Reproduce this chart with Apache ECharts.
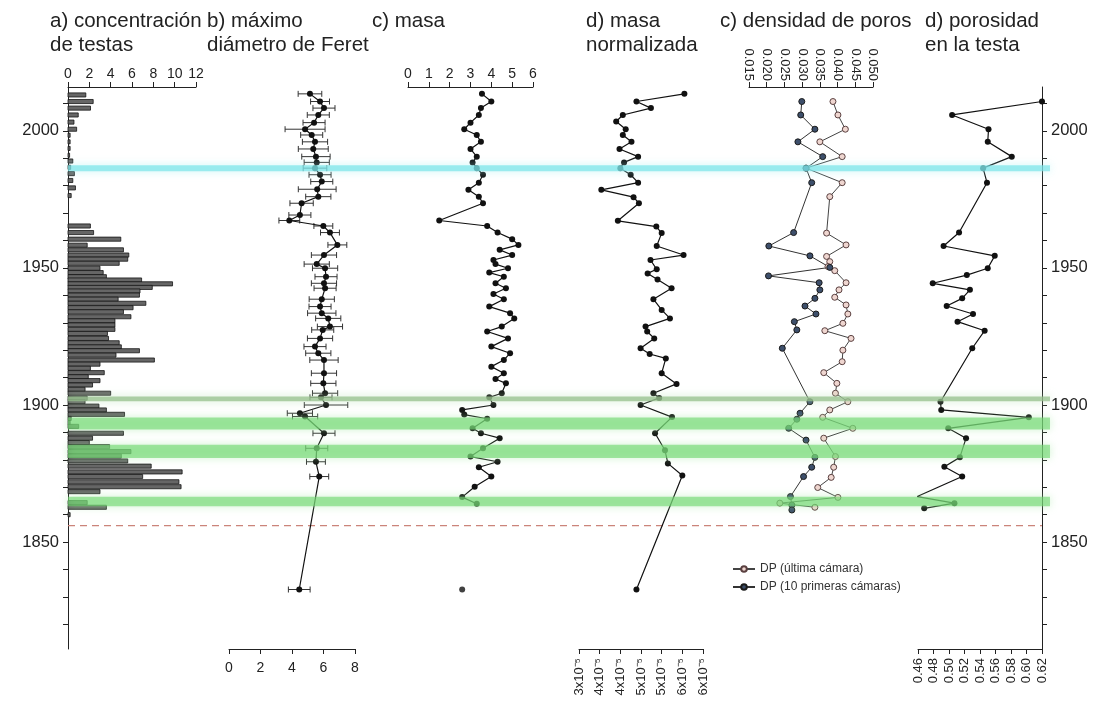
<!DOCTYPE html>
<html>
<head>
<meta charset="utf-8">
<script src="https://cdn.jsdelivr.net/npm/echarts@6/dist/echarts.min.js"></script>
<style>
  html, body { margin: 0; padding: 0; background: #fff; }
  #chart { width: 1109px; height: 709px; }
</style>
</head>
<body>
<div id="chart"></div>
<script>
// ---- Data --------------------------------------------------------------
// a) concentración de testas (year, value)
const concYears = [2013.1, 2010.7, 2008.3, 2005.8, 2003.2, 2000.6, 1998.4, 1996.0, 1993.6, 1991.1, 1989.0, 1986.7, 1984.4, 1981.9, 1979.2, 1976.4,
  1965.3, 1962.9, 1960.5, 1958.3, 1956.6, 1954.7, 1953.2, 1951.7, 1949.9, 1948.3, 1946.8, 1945.6, 1944.2, 1942.9, 1941.6, 1940.1,
  1938.6, 1937.1, 1935.5, 1934.0, 1932.2, 1930.7, 1929.2, 1927.6, 1926.1, 1924.3, 1922.7, 1921.2, 1919.8, 1918.2, 1916.4, 1914.9,
  1913.4, 1911.8, 1910.3, 1908.9, 1907.3, 1905.7, 1904.3, 1902.5, 1901.2, 1899.6, 1898.2, 1896.6, 1895.1, 1893.6, 1892.2, 1889.7,
  1887.9, 1886.3, 1884.8, 1883.0, 1881.4, 1879.6, 1877.7, 1875.6, 1873.9, 1872.0, 1870.2, 1868.4, 1864.4, 1862.7, 1860.0];
const concValues = [1.67, 2.36, 2.11, 0.96, 0.56, 0.81, 0.2, 0.2, 0.2, 0.15, 0.45, 0.25, 0.6, 0.45, 0.7, 0.3,
  2.1, 2.4, 4.95, 1.8, 5.2, 5.7, 5.6, 4.8, 3.0, 3.3, 3.6, 6.9, 9.8, 7.9, 6.75, 6.7,
  4.7, 7.3, 6.1, 5.2, 5.9, 4.4, 4.4, 4.4, 3.7, 3.8, 4.8, 5.0, 6.7, 4.5, 8.1, 3.0,
  2.1, 3.4, 1.9, 3.0, 2.3, 1.6, 4.0, 1.8, 1.6, 2.9, 3.6, 5.3, 0.3, 0.2, 1.0, 5.2,
  2.3, 2.0, 3.9, 5.9, 5.0, 5.6, 7.8, 10.7, 7.0, 10.4, 10.6, 3.0, 1.8, 3.6, 0.2];

// b) máximo diámetro de Feret: mean and half-width of the error bar
const feretYears = [2013.5, 2010.7, 2008.3, 2005.8, 2003.0, 2000.6, 1998.5, 1996.0, 1993.4, 1990.6, 1988.5, 1986.4, 1984.0, 1981.5,
  1978.7, 1976.0, 1973.6, 1969.3, 1967.3, 1965.3, 1962.9, 1958.4, 1954.7, 1951.4, 1949.9, 1946.8, 1944.4, 1942.6, 1938.6, 1935.9,
  1933.5, 1931.6, 1928.6, 1927.4, 1924.3, 1921.3, 1918.9, 1916.4, 1911.6, 1907.9, 1904.3, 1902.8, 1900.0, 1897.0, 1895.8, 1889.7,
  1884.2, 1879.3, 1873.9, 1832.7];
const feretValues = [5.14, 5.78, 6.03, 5.67, 5.40, 4.83, 5.25, 5.46, 5.35, 5.52, 5.57, 5.46, 5.78, 5.89,
  5.60, 5.67, 4.61, 4.50, 3.83, 5.99, 6.41, 6.88, 6.03, 5.57, 6.10, 6.16, 6.03, 6.10, 5.89, 5.78,
  5.89, 6.30, 6.41, 5.95, 5.78, 5.46, 5.67, 6.03, 6.03, 5.99, 6.10, 5.84, 6.16, 4.50, 4.83, 6.03,
  5.57, 5.52, 5.73, 4.46];
const feretErrors = [0.75, 0.6, 0.7, 0.7, 0.7, 1.27, 0.7, 0.8, 0.95, 0.9, 0.8, 0.75, 0.7, 0.7,
  1.2, 0.8, 0.74, 0.7, 0.66, 0.6, 0.6, 0.6, 0.8, 0.8, 0.8, 0.7, 0.8, 0.7, 0.8, 0.7,
  0.9, 0.8, 0.8, 0.7, 0.8, 0.7, 0.8, 0.9, 0.8, 0.8, 0.8, 0.7, 1.38, 0.8, 0.8, 0.7,
  0.7, 0.6, 0.6, 0.69];

// c) masa
const masaYears = [2013.5, 2010.7, 2008.3, 2005.8, 2003.0, 2000.6, 1998.5, 1996.0, 1993.4, 1990.6, 1988.5, 1986.4, 1984.0, 1981.1,
  1978.5, 1976.0, 1973.6, 1967.3, 1965.3, 1962.9, 1960.5, 1958.4, 1956.6, 1954.7, 1952.9, 1951.4, 1949.9, 1948.3, 1946.8, 1944.4,
  1942.6, 1940.5, 1938.6, 1935.9, 1933.5, 1931.6, 1928.6, 1926.8, 1924.3, 1921.3, 1918.9, 1916.4, 1914.0, 1911.6, 1909.5, 1907.9,
  1904.3, 1902.8, 1900.0, 1898.2, 1896.5, 1895.0, 1891.5, 1889.7, 1887.9, 1884.2, 1881.2, 1879.3, 1877.3, 1873.9, 1870.2, 1866.4, 1864.0];
const masaValues = [3.55, 4.0, 3.5, 3.4, 3.0, 2.7, 3.3, 3.5, 3.0, 3.3, 3.1, 3.3, 3.6, 3.4,
  2.9, 3.4, 3.6, 1.5, 3.8, 4.3, 5.0, 5.3, 4.4, 5.0, 4.1, 4.2, 4.8, 3.9, 4.6, 4.2,
  4.7, 4.1, 4.6, 3.9, 4.9, 5.1, 4.5, 3.8, 4.8, 4.0, 4.9, 4.6, 4.0, 4.6, 4.2, 4.7,
  4.5, 3.9, 4.1, 2.6, 2.7, 3.8, 3.1, 3.5, 4.4, 3.6, 3.0, 4.3, 3.4, 4.0, 3.2, 2.6, 3.3];
const masaIsolatedYears = [1832.7];
const masaIsolatedValues = [2.6];

// d) masa normalizada
const masaNormYears = [2013.5, 2010.7, 2008.3, 2005.8, 2003.4, 2000.6, 1998.5, 1996.0, 1993.4, 1990.6, 1988.5, 1986.4, 1984.0, 1981.1,
  1978.5, 1975.8, 1973.6, 1967.2, 1965.1, 1962.7, 1958.0, 1954.7, 1952.9, 1949.5, 1948.0, 1945.8, 1942.6, 1938.6, 1934.7, 1931.6,
  1928.6, 1926.8, 1924.3, 1920.7, 1918.6, 1917.0, 1911.6, 1907.7, 1904.3, 1902.6, 1900.0, 1895.6, 1889.7, 1883.5, 1878.7, 1874.3, 1832.7];
const masaNormValues = [5.55e-5, 4.39e-5, 4.74e-5, 4.06e-5, 3.90e-5, 4.13e-5, 4.06e-5, 4.27e-5, 3.98e-5, 4.43e-5, 4.09e-5, 4.00e-5, 4.25e-5, 4.43e-5,
  3.54e-5, 4.32e-5, 4.45e-5, 3.94e-5, 4.87e-5, 5.00e-5, 4.88e-5, 5.53e-5, 4.73e-5, 4.88e-5, 4.66e-5, 4.90e-5, 5.24e-5, 4.80e-5, 5.00e-5, 5.20e-5,
  4.61e-5, 4.65e-5, 4.82e-5, 4.49e-5, 4.71e-5, 5.10e-5, 5.00e-5, 5.36e-5, 4.80e-5, 4.94e-5, 4.49e-5, 5.25e-5, 4.84e-5, 5.08e-5, 5.15e-5, 5.50e-5, 4.39e-5];
const masaNormTickLabels = ['3x10⁻⁵', '4x10⁻⁵', '4x10⁻⁵', '5x10⁻⁵', '5x10⁻⁵', '6x10⁻⁵', '6x10⁻⁵'];

// e) densidad de poros
const dpLastYears = [2010.7, 2005.8, 2000.6, 1996.0, 1990.6, 1986.4, 1981.1, 1976.0, 1962.7, 1958.4, 1954.2, 1952.3, 1950.5, 1949.0,
  1944.6, 1942.0, 1939.3, 1936.5, 1933.2, 1929.8, 1927.1, 1924.3, 1920.0, 1915.8, 1911.8, 1907.9, 1904.3, 1901.2, 1898.2, 1895.5,
  1891.5, 1887.9, 1881.2, 1877.3, 1873.6, 1869.9, 1866.3, 1864.2, 1862.7];
const dpLastValues = [0.0387, 0.0401, 0.0422, 0.0350, 0.0413, 0.0311, 0.0413, 0.0378, 0.0369, 0.0424, 0.0369, 0.0378, 0.0373, 0.0392,
  0.0424, 0.0404, 0.0392, 0.0424, 0.0429, 0.0415, 0.0364, 0.0438, 0.0415, 0.0413, 0.0361, 0.0398, 0.0394, 0.0429, 0.0378, 0.0358,
  0.0443, 0.0361, 0.0394, 0.0389, 0.0382, 0.0344, 0.0401, 0.0237, 0.0336];
const dpFirstYears = [2010.7, 2005.8, 2000.6, 1996.0, 1990.6, 1986.4, 1981.1, 1962.9, 1958.0, 1954.4, 1950.2, 1947.1, 1944.6, 1942.0,
  1938.9, 1936.1, 1933.2, 1930.4, 1927.4, 1920.7, 1901.2, 1897.0, 1894.8, 1891.5, 1887.2, 1880.9, 1877.3, 1873.9, 1866.6, 1863.5, 1861.7];
const dpFirstValues = [0.0299, 0.0296, 0.0336, 0.0288, 0.0358, 0.0311, 0.0327, 0.0276, 0.0206, 0.0322, 0.0378, 0.0205, 0.0348, 0.0350,
  0.0336, 0.0308, 0.0339, 0.0278, 0.0285, 0.0244, 0.0322, 0.0294, 0.0285, 0.0262, 0.0311, 0.0336, 0.0327, 0.0304, 0.0267, 0.0271, 0.0271];

// f) porosidad en la testa
const porYears = [2010.7, 2005.8, 2000.6, 1996.0, 1990.6, 1986.4, 1981.1, 1962.9, 1958.0, 1954.4, 1949.9, 1947.4, 1944.4, 1942.0,
  1938.9, 1936.1, 1933.2, 1930.4, 1927.1, 1920.7, 1901.2, 1898.2, 1895.5, 1891.5, 1887.9, 1880.9, 1877.5, 1873.9, 1866.6, 1864.2, 1862.3];
const porValues = [0.620, 0.504, 0.551, 0.550, 0.581, 0.544, 0.549, 0.513, 0.493, 0.559, 0.550, 0.523, 0.479, 0.527,
  0.517, 0.497, 0.531, 0.511, 0.546, 0.530, 0.489, 0.490, 0.603, 0.499, 0.522, 0.514, 0.494, 0.517, 0.459, 0.507, 0.468];

// Highlighted intervals (years) and the dashed reference year
const bandStarts = [1985.3, 1901.4, 1891.1, 1880.7, 1863.1];
const bandEnds   = [1987.5, 1903.1, 1895.4, 1885.5, 1866.5];
const bandKinds  = ['cyan', 'olive', 'green', 'green', 'green'];
const dashedYear = 1856;

// Axis tick labels
const yearTicks = [1820, 1830, 1840, 1850, 1860, 1870, 1880, 1890, 1900, 1910, 1920, 1930, 1940, 1950, 1960, 1970, 1980, 1990, 2000, 2010];
const yearLabels = [1850, 1900, 1950, 2000];
const panelTitles = ['a) concentración\nde testas', 'b) máximo\ndiámetro de Feret', 'c) masa', 'd) masa\nnormalizada', 'c) densidad de poros', 'd) porosidad\nen la testa'];
const legendNames = ['DP (última cámara)', 'DP (10 primeras cámaras)'];

// ---- Layout ------------------------------------------------------------
const FONT = '"Liberation Sans", Arial, Helvetica, sans-serif';
const INK = '#222';
const Y_MIN = 1811, Y_MAX = 2016;
const TOP = 87, HEIGHT = 562;
const panelBoxes = [
  { left: 68,  width: 128 },  // a
  { left: 229, width: 126 },  // b
  { left: 408, width: 125 },  // c
  { left: 579, width: 124 },  // d
  { left: 749, width: 124 },  // e
  { left: 918, width: 124 },  // f
  { left: 68,  width: 982 }   // shaded intervals overlay
];
const titleLeft = [50, 207, 372, 586, 720, 925];

const grids = panelBoxes.map(b => ({ left: b.left, width: b.width, top: TOP, height: HEIGHT }));

const axisLineStyle = { color: INK, width: 1 };

function yAxisFor(i) {
  const base = { gridIndex: i, type: 'value', min: Y_MIN, max: Y_MAX, splitLine: { show: false } };
  if (i === 0 || i === 5) {
    return Object.assign(base, {
      position: i === 0 ? 'left' : 'right',
      axisLine: { show: true, lineStyle: axisLineStyle },
      axisTick: { show: true, length: 5, customValues: yearTicks, lineStyle: axisLineStyle },
      axisLabel: {
        customValues: yearLabels, fontSize: 16.5, fontFamily: FONT, color: INK, margin: 9,
        formatter: v => String(Math.round(v))
      }
    });
  }
  return Object.assign(base, { show: false });
}

function xAxisFor(i, pos, min, max, interval, extra) {
  return Object.assign({
    gridIndex: i, type: 'value', position: pos, min, max, interval,
    axisLine: { show: true, onZero: false, lineStyle: axisLineStyle },
    axisTick: { show: true, length: 5, lineStyle: axisLineStyle },
    axisLabel: { fontSize: 14, fontFamily: FONT, color: INK, margin: pos === 'top' ? 6 : 12 },
    splitLine: { show: false }
  }, extra || {});
}

const rotatedLabel = (fmt, margin) => ({ rotate: 90, fontSize: 13, fontFamily: FONT, color: INK, margin, formatter: fmt });

const xAxes = [
  xAxisFor(0, 'top', 0, 12, 2),
  xAxisFor(1, 'bottom', 0, 8, 2),
  xAxisFor(2, 'top', 0, 6, 1),
  xAxisFor(3, 'bottom', 3e-5, 6e-5, 5e-6, { axisLabel: rotatedLabel((v, idx) => masaNormTickLabels[idx], 9) }),
  xAxisFor(4, 'top', 0.015, 0.05, 0.005, { axisLabel: rotatedLabel(v => v.toFixed(3), 6) }),
  xAxisFor(5, 'bottom', 0.46, 0.62, 0.02, { axisLabel: rotatedLabel(v => v.toFixed(2), 9) }),
  { gridIndex: 6, type: 'value', min: 0, max: 1, show: false }
];
const yAxes = panelBoxes.map((b, i) => yAxisFor(i));

const pairs = (xs, ys) => ys.map((y, i) => [xs[i], y]);

const dotLine = (name, xi, data, extra) => Object.assign({
  name, type: 'line', xAxisIndex: xi, yAxisIndex: xi, data,
  symbol: 'circle', symbolSize: 6, showSymbol: true,
  lineStyle: { color: '#111', width: 1.2 },
  itemStyle: { color: '#111' },
  z: 3
}, extra || {});

const bandFill = {
  cyan:  'rgba(120, 228, 232, 0.70)',
  olive: 'rgba(150, 192, 140, 0.75)',
  green: 'rgba(110, 214, 110, 0.62)'
};
const bandGlow = {
  cyan:  'rgba(160, 240, 240, 0.8)',
  olive: 'rgba(180, 225, 175, 0.8)',
  green: 'rgba(160, 232, 160, 0.8)'
};

const series = [
  // a) horizontal bars
  {
    type: 'custom', xAxisIndex: 0, yAxisIndex: 0,
    data: pairs(concValues, concYears),
    encode: { x: 0, y: 1 },
    renderItem(params, api) {
      const v = api.value(0), y = api.value(1);
      const p0 = api.coord([0, y + 0.75]);
      const p1 = api.coord([v, y - 0.75]);
      return {
        type: 'rect',
        shape: { x: p0[0], y: p0[1], width: Math.max(p1[0] - p0[0], 1), height: p1[1] - p0[1] },
        style: { fill: '#666', stroke: '#151515', lineWidth: 0.8 }
      };
    },
    z: 2
  },
  // b) error bars
  {
    type: 'custom', xAxisIndex: 1, yAxisIndex: 1,
    data: feretYears.map((y, i) => [feretValues[i], y, feretErrors[i]]),
    encode: { x: 0, y: 1 },
    renderItem(params, api) {
      const v = api.value(0), y = api.value(1), e = api.value(2);
      const a = api.coord([v - e, y]), b = api.coord([v + e, y]);
      const st = { stroke: '#333', lineWidth: 1 };
      return {
        type: 'group',
        children: [
          { type: 'line', shape: { x1: a[0], y1: a[1], x2: b[0], y2: b[1] }, style: st },
          { type: 'line', shape: { x1: a[0], y1: a[1] - 3, x2: a[0], y2: a[1] + 3 }, style: st },
          { type: 'line', shape: { x1: b[0], y1: b[1] - 3, x2: b[0], y2: b[1] + 3 }, style: st }
        ]
      };
    },
    z: 2
  },
  dotLine('feret', 1, pairs(feretValues, feretYears)),
  dotLine('masa', 2, pairs(masaValues, masaYears)),
  {
    type: 'scatter', xAxisIndex: 2, yAxisIndex: 2,
    data: pairs(masaIsolatedValues, masaIsolatedYears),
    symbolSize: 6, itemStyle: { color: '#111' }, z: 3
  },
  dotLine('masaNorm', 3, pairs(masaNormValues, masaNormYears)),
  dotLine(legendNames[0], 4, pairs(dpLastValues, dpLastYears), {
    symbolSize: 6,
    lineStyle: { color: '#444', width: 1 },
    itemStyle: { color: '#efd6d0', borderColor: '#5a4040', borderWidth: 1 }
  }),
  dotLine(legendNames[1], 4, pairs(dpFirstValues, dpFirstYears), {
    symbolSize: 6,
    lineStyle: { color: '#333', width: 1 },
    itemStyle: { color: '#3d4f6b', borderColor: '#1a1a1a', borderWidth: 1 }
  }),
  dotLine('porosidad', 5, pairs(porValues, porYears)),
  // shaded intervals across all panels
  {
    type: 'custom', xAxisIndex: 6, yAxisIndex: 6,
    data: bandStarts.map((s, i) => [0, s, bandEnds[i], i]),
    encode: { x: 0, y: [1, 2] },
    renderItem(params, api) {
      const k = bandKinds[api.value(3)];
      const pA = api.coord([0, api.value(2)]);
      const pB = api.coord([1, api.value(1)]);
      return {
        type: 'rect',
        shape: { x: pA[0], y: pA[1], width: pB[0] - pA[0], height: pB[1] - pA[1] },
        style: { fill: bandFill[k], shadowBlur: 8, shadowColor: bandGlow[k] }
      };
    },
    z: 10, silent: true
  },
  // dashed reference year
  {
    type: 'custom', xAxisIndex: 6, yAxisIndex: 6,
    data: [[0, dashedYear]],
    encode: { x: 0, y: 1 },
    renderItem(params, api) {
      const a = api.coord([0, api.value(1)]);
      const b = api.coord([974 / 982, api.value(1)]);
      return {
        type: 'line',
        shape: { x1: a[0], y1: a[1], x2: b[0], y2: b[1] },
        style: { stroke: 'rgba(200, 125, 115, 0.95)', lineWidth: 1.2, lineDash: [7, 5] }
      };
    },
    z: 1, silent: true
  }
];

const chart = echarts.init(document.getElementById('chart'));
chart.setOption({
  animation: false,
  backgroundColor: '#fff',
  textStyle: { fontFamily: FONT },
  grid: grids,
  xAxis: xAxes,
  yAxis: yAxes,
  legend: {
    data: legendNames,
    orient: 'vertical',
    left: 727, top: 558,
    itemGap: 6, itemWidth: 22, itemHeight: 7,
    textStyle: { fontSize: 12, fontFamily: FONT, color: '#333' }
  },
  graphic: panelTitles.map((t, i) => ({
    type: 'text', left: titleLeft[i], top: 9,
    style: { text: t, font: `20.5px ${FONT}`, fill: INK, lineHeight: 24 }
  })),
  series
});
</script>
</body>
</html>
